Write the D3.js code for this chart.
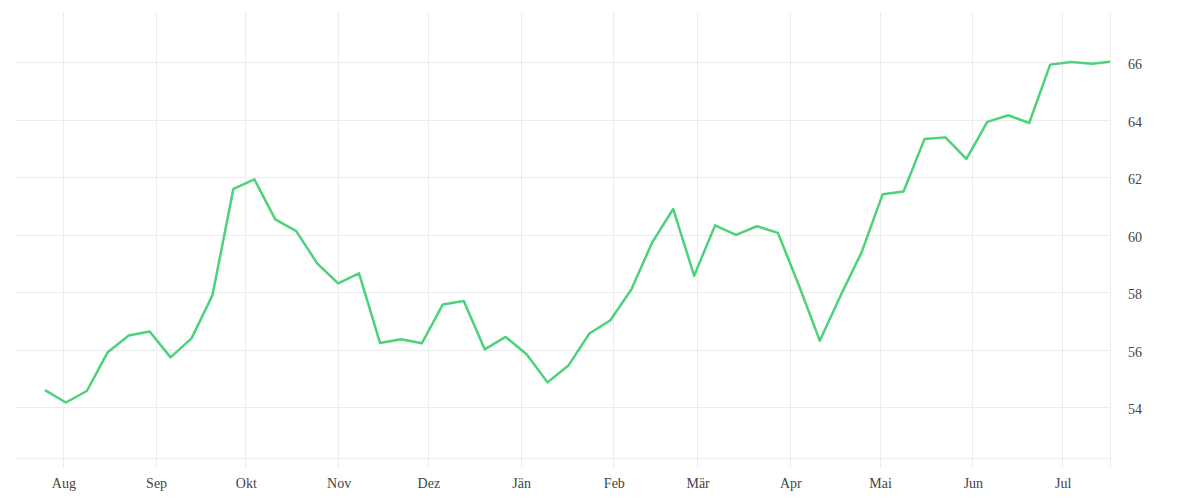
<!DOCTYPE html>
<html>
<head>
<meta charset="utf-8">
<script src="https://cdn.jsdelivr.net/npm/d3@7"></script>
<style>
  body { margin: 0; background: #fff; }
  svg { display: block; }
</style>
</head>
<body>
<div id="chart"></div>
<script>
// weekly dates (plus the latest partial week)
var dates = [
    "2018-07-26", "2018-08-02", "2018-08-09", "2018-08-16", "2018-08-23", "2018-08-30",
    "2018-09-06", "2018-09-13", "2018-09-20", "2018-09-27",
    "2018-10-04", "2018-10-11", "2018-10-18", "2018-10-25",
    "2018-11-01", "2018-11-08", "2018-11-15", "2018-11-22", "2018-11-29",
    "2018-12-06", "2018-12-13", "2018-12-20", "2018-12-27",
    "2019-01-03", "2019-01-10", "2019-01-17", "2019-01-24", "2019-01-31",
    "2019-02-07", "2019-02-14", "2019-02-21", "2019-02-28",
    "2019-03-07", "2019-03-14", "2019-03-21", "2019-03-28",
    "2019-04-04", "2019-04-11", "2019-04-18", "2019-04-25",
    "2019-05-02", "2019-05-09", "2019-05-16", "2019-05-23", "2019-05-30",
    "2019-06-06", "2019-06-13", "2019-06-20", "2019-06-27",
    "2019-07-04", "2019-07-11", "2019-07-17"
];

var values = [
    54.60, 54.17, 54.57, 55.92, 56.50, 56.64,
    55.74, 56.40, 57.90, 61.60,
    61.93, 60.54, 60.13, 59.01,
    58.31, 58.66, 56.24, 56.37, 56.23,
    57.58, 57.70, 56.02, 56.45,
    55.85, 54.87, 55.46, 56.57, 57.03,
    58.10, 59.74, 60.90, 58.58,
    60.33, 60.00, 60.30, 60.07,
    58.25, 56.32, 57.90, 59.40,
    61.41, 61.51, 63.33, 63.39, 62.64,
    63.93, 64.16, 63.89, 65.92,
    66.01, 65.95, 66.02
];

var monthLabels = ["Aug", "Sep", "Okt", "Nov", "Dez", "Jän", "Feb", "Mär", "Apr", "Mai", "Jun", "Jul"];
var yTicks = [54, 56, 58, 60, 62, 64, 66];

var width = 1200;
var height = 500;
var margin = {top: 12, right: 90, bottom: 42, left: 15};

var parse = d3.timeParse("%Y-%m-%d");
var data = dates.map(function(d, i) { return {date: parse(d), value: values[i]}; });

var x = d3.scaleTime()
    .domain([parse("2018-07-16"), parse("2019-07-17")])
    .range([margin.left, width - margin.right]);

var y = d3.scaleLinear()
    .domain([52.24, 67.75])
    .range([height - margin.bottom, margin.top]);

var svg = d3.select("#chart").append("svg")
    .attr("width", width)
    .attr("height", height);

var monthTicks = d3.timeMonth.range(parse("2018-08-01"), parse("2019-07-02"));
var gridColor = "#ececec";
var fontFam = "'Liberation Serif', 'DejaVu Serif', serif";

// horizontal grid
svg.append("g")
    .selectAll("line")
    .data(yTicks)
    .enter().append("line")
    .attr("x1", margin.left)
    .attr("x2", width - margin.right)
    .attr("y1", function(d) { return Math.round(y(d)) + 0.5; })
    .attr("y2", function(d) { return Math.round(y(d)) + 0.5; })
    .style("stroke", gridColor);

// bottom line
svg.append("line")
    .attr("x1", margin.left)
    .attr("x2", width - margin.right)
    .attr("y1", height - margin.bottom + 0.5)
    .attr("y2", height - margin.bottom + 0.5)
    .style("stroke", gridColor);

// vertical grid (months + end of domain)
svg.append("g")
    .selectAll("line")
    .data(monthTicks.concat([x.domain()[1]]))
    .enter().append("line")
    .attr("x1", function(d) { return Math.round(x(d)) + 0.5; })
    .attr("x2", function(d) { return Math.round(x(d)) + 0.5; })
    .attr("y1", margin.top)
    .attr("y2", height - margin.bottom + 10)
    .style("stroke", gridColor);

// x labels
svg.append("g")
    .selectAll("text")
    .data(monthTicks)
    .enter().append("text")
    .attr("x", function(d) { return x(d) + 1; })
    .attr("y", 488)
    .style("text-anchor", "middle")
    .style("font-family", fontFam)
    .style("font-size", "14px")
    .style("fill", "#444")
    .text(function(d, i) { return monthLabels[i]; });

// y labels
svg.append("g")
    .selectAll("text")
    .data(yTicks)
    .enter().append("text")
    .attr("x", width - margin.right + 18)
    .attr("y", function(d) { return y(d) + 7; })
    .style("font-family", fontFam)
    .style("font-size", "14px")
    .style("fill", "#444")
    .text(function(d) { return d; });

// line
var line = d3.line()
    .x(function(d) { return x(d.date); })
    .y(function(d) { return y(d.value); });

svg.append("path")
    .datum(data)
    .attr("d", line)
    .style("fill", "none")
    .style("stroke", "#4cd27b")
    .style("stroke-width", 2.5)
    .style("stroke-linejoin", "round");
</script>
</body>
</html>
